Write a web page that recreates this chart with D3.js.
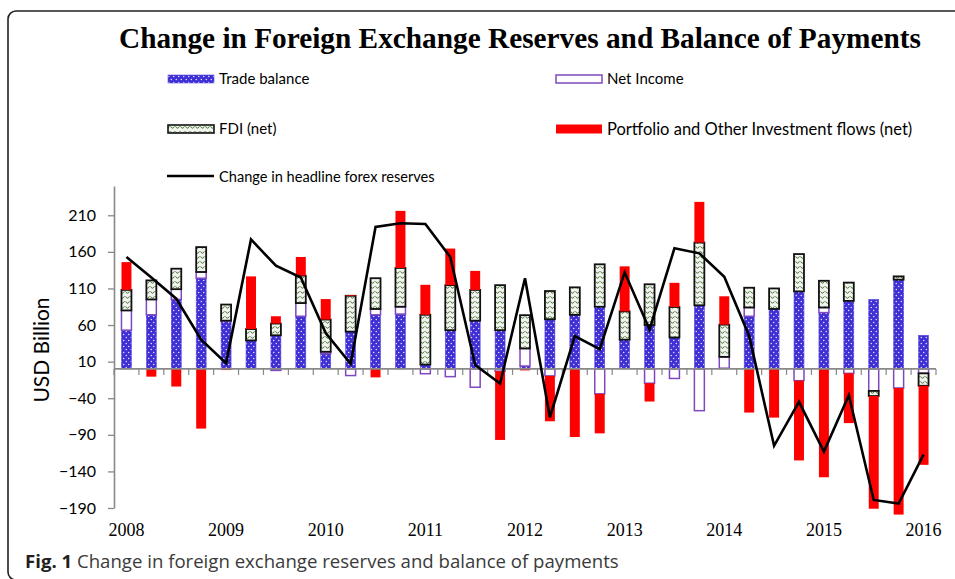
<!DOCTYPE html>
<html>
<head>
<meta charset="utf-8">
<script src="https://cdn.jsdelivr.net/npm/d3@7"></script>
<style>
html, body { margin: 0; padding: 0; background: #fff; }
svg { display: block; }
</style>
</head>
<body>
<svg id="chart" width="955" height="579"></svg>
<script>
// quarterly categories, 2008Q1 .. 2016Q1
const quarters = [
  "2008Q1","2008Q2","2008Q3","2008Q4",
  "2009Q1","2009Q2","2009Q3","2009Q4",
  "2010Q1","2010Q2","2010Q3","2010Q4",
  "2011Q1","2011Q2","2011Q3","2011Q4",
  "2012Q1","2012Q2","2012Q3","2012Q4",
  "2013Q1","2013Q2","2013Q3","2013Q4",
  "2014Q1","2014Q2","2014Q3","2014Q4",
  "2015Q1","2015Q2","2015Q3","2015Q4",
  "2016Q1"
];

// USD billion
const tradeBalance = [53, 74, 95, 124, 65, 39, 46, 72, 21, 51, 74, 75, 6, 53, 66, 53,
                      4, 68, 74, 85, 40, 60, 43, 87, 1, 72, 82, 106, 77, 93, 95, 122, 46];
const netIncome    = [27, 21, 14, 8.5, 1, 0, -2, 18, 2.5, -9, 8, 10, -6.5, -10.5, -25, -3,
                      24, -9.5, 0, -34, 0, -19.5, -13, -57, 15.5, 12, 0, -16, 7, -6, -30, -26, -6];
const fdiNet       = [28, 26, 28, 34, 22, 15.5, 16, 37.5, 44, 49, 42, 53, 68, 61.5, 42, 61.5,
                      45.5, 38.5, 37.5, 58, 38.7, 55.7, 41.7, 85.7, 44, 27, 28, 51, 36.5, 25, -7, 4.5, -17];
const portfolioFlows = [38, -10.5, -24, -81.5, -1.5, 72, 10, 25.5, 28, 1, -11.5, 78, 41, 50, 26, -94,
                        -2, -62, -93, -54, 61.5, -25, 33, 55.6, 38.8, -59.6, -66.5, -109, -148, -68, -154, -173, -108];
const reserveChange = [153, 125, 96, 40, 8, 177, 141, 125, 49, 7, 194, 199, 198, 153, 5.5, -20,
                       124, -66, 45, 27, 132, 54, 165, 158, 126, 45, -105, -45, -113, -36, -179, -184, -117];

const yTicks = [-190, -140, -90, -40, 10, 60, 110, 160, 210];

const svg = d3.select("#chart");

// ---- patterns ----
const defs = svg.append("defs");

const dots = defs.append("pattern")
  .attr("id", "dots")
  .attr("patternUnits", "userSpaceOnUse")
  .attr("width", 5).attr("height", 6);
dots.append("rect").attr("width", 5).attr("height", 6).attr("fill", "#3f2fd4");
dots.append("circle").attr("cx", 1.25).attr("cy", 1.5).attr("r", 0.65).attr("fill", "#fff");
dots.append("circle").attr("cx", 3.75).attr("cy", 4.5).attr("r", 0.65).attr("fill", "#fff");

const waves = defs.append("pattern")
  .attr("id", "waves")
  .attr("patternUnits", "userSpaceOnUse")
  .attr("width", 5).attr("height", 5);
waves.append("rect").attr("width", 5).attr("height", 5).attr("fill", "#f1f5ee");
waves.append("path")
  .attr("d", "M0.6,1.4 Q2.5,5 4.4,1.4")
  .attr("fill", "none")
  .attr("stroke", "#2e5a1c")
  .attr("stroke-width", 0.9);

// ---- frame ----
svg.append("rect")
  .attr("x", 8).attr("y", 11)
  .attr("width", 970).attr("height", 569)
  .attr("rx", 8).attr("ry", 8)
  .attr("fill", "none")
  .attr("stroke", "#222")
  .attr("stroke-width", 1.6);

// ---- title ----
svg.append("text")
  .attr("x", 520).attr("y", 48)
  .attr("text-anchor", "middle")
  .attr("font-family", "'Liberation Serif', 'Times New Roman', serif")
  .attr("font-weight", "bold")
  .attr("font-size", 29.3)
  .attr("fill", "#000")
  .text("Change in Foreign Exchange Reserves and Balance of Payments");

// ---- scales ----
const x = d3.scaleBand()
  .domain(quarters)
  .range([114, 936])
  .paddingInner(0.6)
  .paddingOuter(0.3);

const y = d3.scaleLinear()
  .domain([-190, 250])
  .range([508, 186]);

const cx = q => x(q) + x.bandwidth() / 2;

// ---- stacked bars ----
const rows = quarters.map((q, i) => ({
  q: q,
  trade: tradeBalance[i],
  ni: netIncome[i],
  fdi: fdiNet[i],
  port: portfolioFlows[i]
}));

const series = d3.stack()
  .keys(["trade", "ni", "fdi", "port"])
  .offset(d3.stackOffsetDiverging)(rows);

const styles = {
  trade: { fill: "url(#dots)", stroke: "#5a4be0", sw: 0.6 },
  ni:    { fill: "#fff", stroke: "#7f48c0", sw: 1.5 },
  fdi:   { fill: "url(#waves)", stroke: "#111", sw: 1.8 },
  port:  { fill: "#ff0000", stroke: "none", sw: 0 }
};

const barLayer = svg.append("g").attr("class", "bars");
series.forEach(s => {
  const st = styles[s.key];
  barLayer.append("g")
    .selectAll("rect")
    .data(s.filter(d => d[1] - d[0] !== 0))
    .enter().append("rect")
    .attr("x", d => x(d.data.q))
    .attr("width", x.bandwidth())
    .attr("y", d => y(Math.max(d[0], d[1])))
    .attr("height", d => Math.abs(y(d[0]) - y(d[1])))
    .attr("fill", st.fill)
    .attr("stroke", st.stroke)
    .attr("stroke-width", st.sw);
});

// ---- axes ----
const axisColor = "#888";

const yAxis = svg.append("g")
  .attr("transform", "translate(114,0)")
  .call(d3.axisLeft(y).tickValues(yTicks).tickSize(6).tickPadding(12).tickSizeOuter(0));
yAxis.select(".domain").attr("stroke", axisColor).attr("stroke-width", 1.6);
yAxis.selectAll(".tick line").attr("stroke", axisColor).attr("stroke-width", 1.3);
yAxis.selectAll(".tick text")
  .attr("font-family", "Lato, 'Open Sans', sans-serif")
  .attr("font-size", 16)
  .attr("fill", "#000");

// category axis sits on zero
const xAxis = svg.append("g")
  .attr("transform", `translate(0,${y(0)})`);
xAxis.append("line")
  .attr("x1", 114).attr("x2", 936)
  .attr("stroke", axisColor)
  .attr("stroke-width", 1.8);
xAxis.selectAll("line.tk")
  .data(d3.range(quarters.length + 1))
  .enter().append("line")
  .attr("class", "tk")
  .attr("x1", i => 114 + i * x.step())
  .attr("x2", i => 114 + i * x.step())
  .attr("y1", 0).attr("y2", 6)
  .attr("stroke", axisColor)
  .attr("stroke-width", 1.2);

// year labels under the plot, on the Q1 bars
svg.append("g").selectAll("text")
  .data(quarters.filter(q => q.endsWith("Q1")))
  .enter().append("text")
  .attr("x", q => cx(q))
  .attr("y", 536)
  .attr("text-anchor", "middle")
  .attr("font-family", "'Liberation Serif', 'Times New Roman', serif")
  .attr("font-size", 18)
  .attr("fill", "#000")
  .text(q => q.slice(0, 4));

svg.append("text")
  .attr("transform", "translate(49,350) rotate(-90)")
  .attr("text-anchor", "middle")
  .attr("font-family", "Lato, 'Open Sans', sans-serif")
  .attr("font-size", 21)
  .attr("fill", "#000")
  .text("USD Billion");

// ---- reserves line ----
const line = d3.line()
  .x((d, i) => cx(quarters[i]))
  .y(d => y(d));

svg.append("path")
  .datum(reserveChange)
  .attr("d", line)
  .attr("fill", "none")
  .attr("stroke", "#000")
  .attr("stroke-width", 2.6)
  .attr("stroke-linejoin", "miter");

// ---- legend ----
const legendFont = "Lato, 'Open Sans', sans-serif";
const legend = svg.append("g");

function legendText(xp, yp, label, size) {
  legend.append("text")
    .attr("x", xp).attr("y", yp)
    .attr("dy", "0.35em")
    .attr("font-family", legendFont)
    .attr("font-size", size || 15)
    .attr("fill", "#000")
    .text(label);
}

legend.append("rect").attr("x", 168).attr("y", 75).attr("width", 46).attr("height", 8)
  .attr("fill", "url(#dots)").attr("stroke", "#5a4be0").attr("stroke-width", 0.6);
legendText(219, 79, "Trade balance");

legend.append("rect").attr("x", 556).attr("y", 75).attr("width", 46).attr("height", 8)
  .attr("fill", "#fff").attr("stroke", "#7f48c0").attr("stroke-width", 1.5);
legendText(607, 79, "Net Income");

legend.append("rect").attr("x", 168).attr("y", 125).attr("width", 46).attr("height", 8)
  .attr("fill", "url(#waves)").attr("stroke", "#111").attr("stroke-width", 1.6);
legendText(219, 129, "FDI (net)");

legend.append("rect").attr("x", 556).attr("y", 124.5).attr("width", 46).attr("height", 9)
  .attr("fill", "#ff0000");
legendText(607, 129, "Portfolio and Other Investment flows (net)", 16.5);

legend.append("line").attr("x1", 167).attr("x2", 214).attr("y1", 176).attr("y2", 176)
  .attr("stroke", "#000").attr("stroke-width", 2.6);
legendText(219, 177, "Change in headline forex reserves", 14.6);

// ---- caption ----
const caption = svg.append("text")
  .attr("x", 25).attr("y", 568)
  .attr("font-family", "'Open Sans', 'Noto Sans', sans-serif")
  .attr("font-size", 18.6)
  .attr("fill", "#231f20");
caption.append("tspan").attr("font-weight", "bold").text("Fig. 1");
caption.append("tspan").attr("fill", "#3a3a3a")
  .text(" Change in foreign exchange reserves and balance of payments");
</script>
</body>
</html>
